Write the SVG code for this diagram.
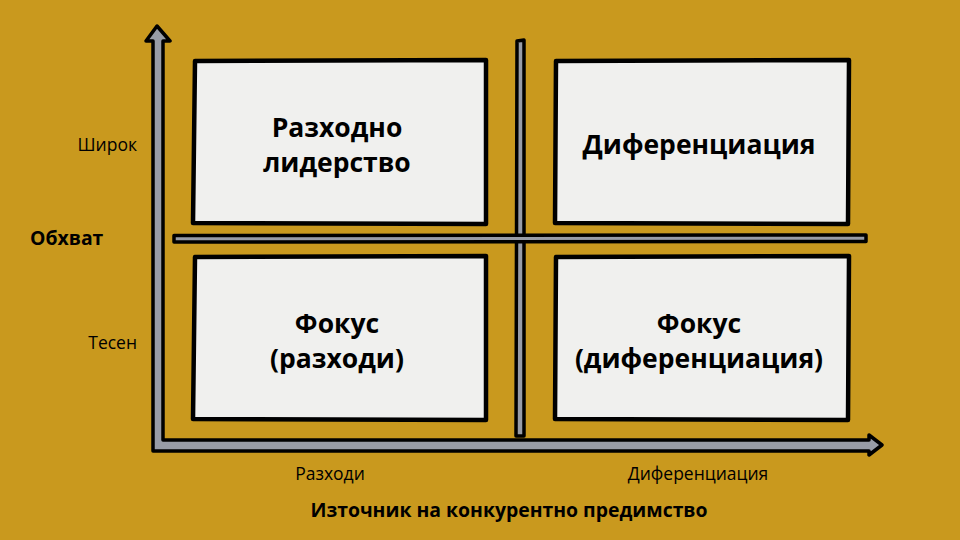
<svg xmlns="http://www.w3.org/2000/svg" width="960" height="540" viewBox="0 0 960 540">
<style>
.box{fill:#F0F0EE;stroke:#000;stroke-width:4.5;stroke-linejoin:round}
.ax{fill:#989CA6;stroke:#000;stroke-width:3.5;stroke-linejoin:round}
.t{font-family:"Open Sans","Noto Sans",sans-serif;font-weight:bold;font-size:26.5px;fill:#000;text-anchor:middle}
.l{font-family:"Open Sans","Noto Sans",sans-serif;font-size:17.5px;fill:#000}
.lb{font-family:"Open Sans","Noto Sans",sans-serif;font-size:19.4px;font-weight:bold;fill:#000}
</style>
<rect width="960" height="540" fill="#C9991E"/>
<g id="connectors">
<path class="ax" d="M517,41 L524,40 L524,436 L516,436 Z"/>
<path class="ax" d="M174,235.5 L866,235 L866,241.5 L174,242 Z"/>
<path class="ax" d="M153,41 L146,41 L157,26 L170,41 L163,41 L163,440 L869,440 L869,435 L882,445 L869,455 L869,451 L153,451 Z"/>
</g>
<g id="n1"><path class="box" d="M195,61 L486,60 L486,224 L193,223 Z"/>
<text class="t" x="337" y="137">Разходно</text><text class="t" x="337" y="172">лидерство</text></g>
<g id="n2"><path class="box" d="M556,61 L849,60 L848,224 L555,223 Z"/>
<text class="t" x="699" y="154">Диференциация</text></g>
<g id="n3"><path class="box" d="M195,257 L486,256 L486,420 L193,419 Z"/>
<text class="t" x="337" y="333">Фокус</text><text class="t" x="337" y="368">(разходи)</text></g>
<g id="n4"><path class="box" d="M556,257 L849,256 L848,420 L555,419 Z"/>
<text class="t" x="699" y="333">Фокус</text><text class="t" x="699" y="368">(диференциация)</text></g>
<g id="labels">
<text class="l" x="137" y="151" text-anchor="end">Широк</text>
<text class="l" x="137" y="349" text-anchor="end">Тесен</text>
<text class="lb" x="30" y="245">Обхват</text>
<text class="l" x="330" y="480" text-anchor="middle">Разходи</text>
<text class="l" x="698" y="480" text-anchor="middle">Диференциация</text>
<text class="lb" x="509" y="517" text-anchor="middle">Източник на конкурентно предимство</text>
</g>
</svg>
